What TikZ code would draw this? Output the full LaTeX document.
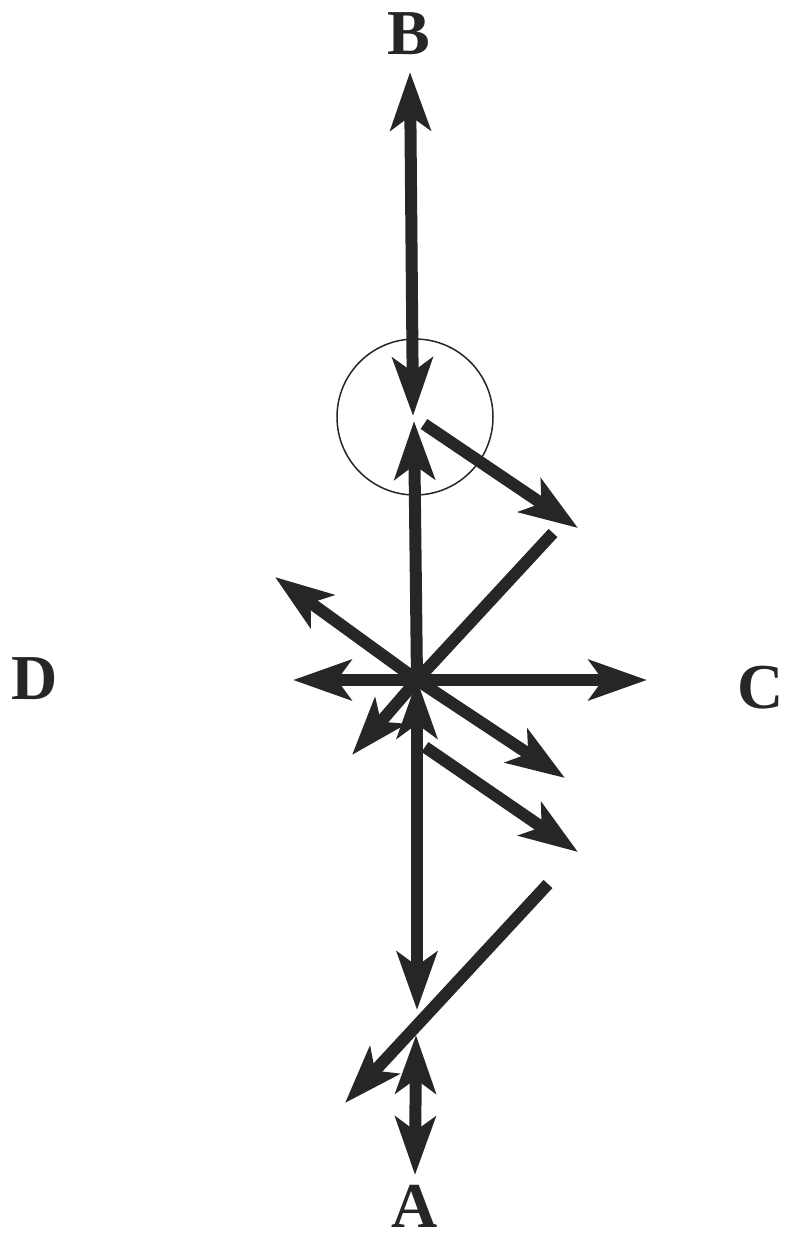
\documentclass[tikz,border=0pt]{standalone}
\usepackage{fontspec}
\setmainfont{Liberation Serif}[BoldFont={Liberation Serif Bold}]
\usetikzlibrary{arrows.meta}
\colorlet{ink}{black!85}
\tikzset{
  vec/.style={draw=ink, line width=6pt, -{Stealth[length=29pt,width=20pt,inset=7pt]}},
  dvec/.style={vec, {Stealth[length=29pt,width=20pt,inset=7pt]}-{Stealth[length=29pt,width=20pt,inset=7pt]}},
  bar/.style={draw=ink, line width=6pt},
  pole/.style={font=\fontsize{32}{32}\selectfont\bfseries, text=ink, inner sep=0pt}
}
\begin{document}
\begin{tikzpicture}[x=0.5pt,y=-0.5pt]
\useasboundingbox (0,0) rectangle (785,1238);
% labels
\node[pole] (B) at (409,34) {B};
\node[pole] (A) at (415,1206) {A};
\node[pole] (D) at (35,679) {D};
\node[pole] (C) at (761,688) {C};
% points
\coordinate (top) at (410,72);
\coordinate (cup) at (413,416);
\coordinate (cdn) at (414,421);
\coordinate (o) at (417,680);
\coordinate (low) at (417,1010);
\coordinate (low2) at (416,1035);
\coordinate (bot) at (415,1175);
\draw[ink, line width=0.75pt] (415,417) circle[radius=78];
\draw[dvec] (top) -- (cup);
\draw[vec] (o) -- (cdn);
\draw[vec] (424,424) coordinate (r1) -- (578,528) coordinate (r1e);
\draw[bar] (o) -- (553,533) coordinate (ur);
\draw[vec] (o) -- (275,577) coordinate (ul);
\draw[vec] (o) -- (293,680) coordinate (lt);
\draw[vec] (o) -- (647,680) coordinate (rt);
\draw[vec] (o) -- (352,755) coordinate (dl);
\draw[vec] (o) -- (565,778) coordinate (dr);
\draw[vec] (425,747) coordinate (r2) -- (578,852) coordinate (r2e);
\draw[dvec] (o) -- (low);
\draw[vec] (548,884) coordinate (d1) -- (345,1103) coordinate (d1e);
\draw[dvec] (low2) -- (bot);
\end{tikzpicture}
\end{document}
